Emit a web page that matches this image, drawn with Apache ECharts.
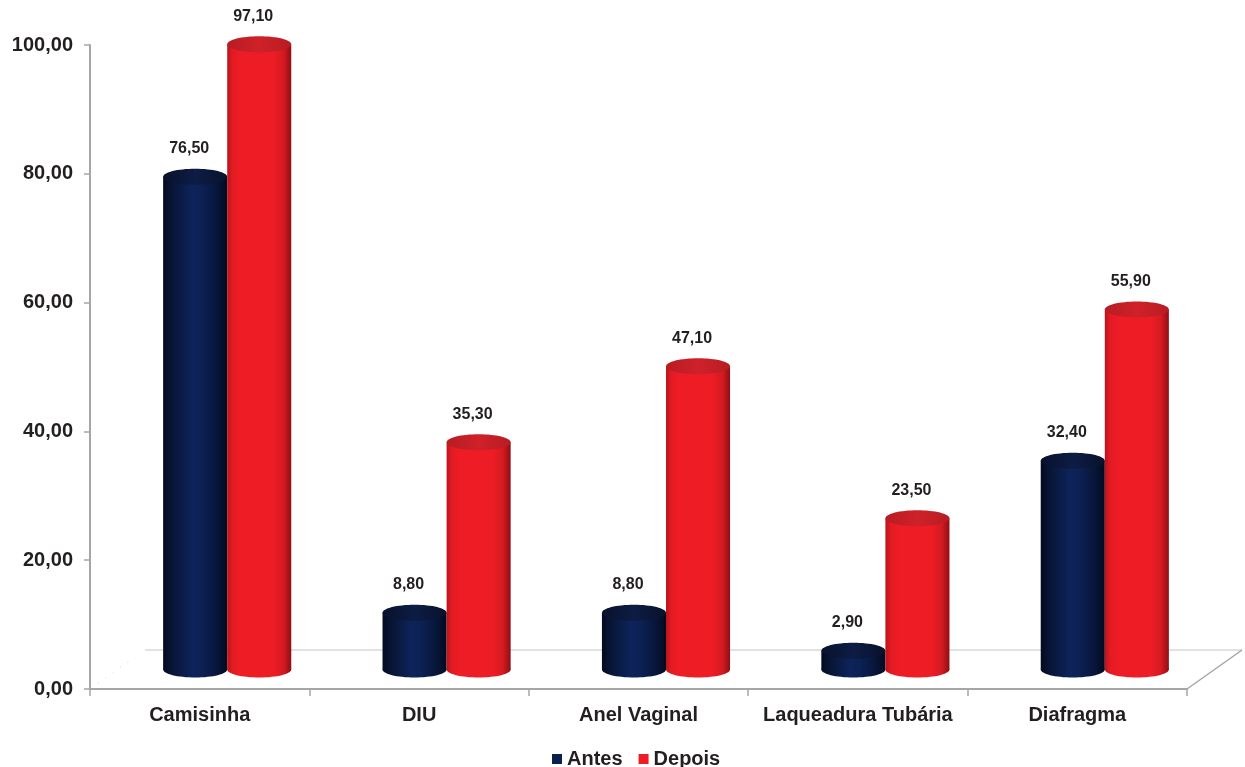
<!DOCTYPE html>
<html>
<head>
<meta charset="utf-8">
<script src="https://cdn.jsdelivr.net/npm/echarts@6/dist/echarts.min.js"></script>
<style>
  html, body { margin: 0; padding: 0; background: #ffffff; }
  #chart { width: 1245px; height: 767px; }
</style>
</head>
<body>
<div id="chart"></div>
<script>
// Métodos contraceptivos: percentuais antes e depois
const categories = ['Camisinha', 'DIU', 'Anel Vaginal', 'Laqueadura Tubária', 'Diafragma'];
const antes = [76.5, 8.8, 8.8, 2.9, 32.4];
const depois = [97.1, 35.3, 47.1, 23.5, 55.9];
const seriesNames = ['Antes', 'Depois'];
const yTicks = [0, 20, 40, 60, 80, 100];

const FONT = '"Liberation Sans", Arial, Helvetica, sans-serif';
const TEXT = '#231f20';
// depth of the 3D floor (pixels), bars stand at mid-depth
const DEPTH_X = 55, DEPTH_Y = 39;

const fmt = v => v.toFixed(2).replace('.', ',');

const palettes = [
  { // navy
    body: [[0, '#030a20'], [0.12, '#071433'], [0.45, '#0d235a'], [0.6, '#0c2154'], [0.85, '#071538'], [1, '#030a1f']],
    top: [[0, '#08122c'], [0.5, '#0d1c44'], [1, '#08122c']],
    legend: '#0c2050'
  },
  { // red
    body: [[0, '#b8141b'], [0.08, '#e21b23'], [0.2, '#ee1c25'], [0.72, '#ee1c25'], [0.88, '#d41a21'], [1, '#8e0f14']],
    top: [[0, '#b81c23'], [0.5, '#cf2129'], [1, '#b81c23']],
    legend: '#ee1c24'
  }
];

function grad(stops) {
  return new echarts.graphic.LinearGradient(0, 0, 1, 0,
    stops.map(s => ({ offset: s[0], color: s[1] })));
}

function cylinder(sIdx) {
  return function (params, api) {
    const idx = api.value(0);
    const v = api.value(1);
    const base = api.coord([idx, 0]);
    const top = api.coord([idx, v]);
    const band = api.size([1, 0])[0];
    const r = band * 0.146;
    const ry = 8;
    const cx = base[0] + DEPTH_X / 2 + (sIdx === 0 ? -r : r);
    const by = base[1] - DEPTH_Y / 2;
    const ty = top[1] - DEPTH_Y / 2;
    const p = palettes[sIdx];
    return {
      type: 'group',
      children: [
        { type: 'ellipse', shape: { cx: cx, cy: by, rx: r, ry: ry }, style: { fill: grad(p.body) } },
        { type: 'rect', shape: { x: cx - r, y: ty, width: 2 * r, height: by - ty }, style: { fill: grad(p.body) } },
        { type: 'ellipse', shape: { cx: cx, cy: ty, rx: r, ry: ry }, style: { fill: grad(p.top) } },
        {
          type: 'text',
          style: {
            text: fmt(v), x: cx - 6, y: ty - 28,
            textAlign: 'center', textVerticalAlign: 'middle',
            font: 'bold 16px ' + FONT, fill: TEXT
          }
        }
      ]
    };
  };
}

// floor of the 3D plot area
function floor(params, api) {
  const cs = params.coordSys;
  const x0 = cs.x, x1 = cs.x + cs.width, y0 = cs.y + cs.height;
  return {
    type: 'group',
    children: [
      { type: 'line', shape: { x1: x0 + DEPTH_X, y1: y0 - DEPTH_Y, x2: x1 + DEPTH_X, y2: y0 - DEPTH_Y },
        style: { stroke: '#d9d9d9', lineWidth: 1.5 } },
      { type: 'line', shape: { x1: x1, y1: y0, x2: x1 + DEPTH_X, y2: y0 - DEPTH_Y },
        style: { stroke: '#a6a6a6', lineWidth: 1.5 } },
      { type: 'line', shape: { x1: x0 + 8, y1: y0 - 6, x2: x0 + DEPTH_X - 10, y2: y0 - DEPTH_Y + 7 },
        style: { stroke: '#d0d0d0', lineWidth: 1, lineDash: [1, 8] } }
    ]
  };
}

const chart = echarts.init(document.getElementById('chart'), null, { renderer: 'canvas' });
chart.setOption({
  animation: false,
  backgroundColor: '#ffffff',
  grid: { left: 90, right: 58, top: 45, bottom: 78 },
  legend: {
    data: seriesNames,
    left: 547, top: 744,
    icon: 'rect', itemWidth: 10, itemHeight: 10, itemGap: 16,
    textStyle: { fontFamily: FONT, fontWeight: 'bold', fontSize: 20, color: TEXT }
  },
  xAxis: {
    type: 'category',
    data: categories,
    axisLine: { lineStyle: { color: '#a6a6a6', width: 2 } },
    axisTick: { show: true, length: 7, lineStyle: { color: '#a6a6a6', width: 1.5 } },
    axisLabel: { margin: 16, fontFamily: FONT, fontWeight: 'bold', fontSize: 20, color: TEXT, interval: 0 },
    splitLine: { show: false }
  },
  yAxis: {
    type: 'value',
    min: yTicks[0], max: yTicks[yTicks.length - 1], interval: yTicks[1] - yTicks[0],
    axisLine: { show: true, lineStyle: { color: '#a6a6a6', width: 2 } },
    axisTick: { show: true, length: 6, lineStyle: { color: '#a6a6a6', width: 1.5 } },
    axisLabel: { margin: 17, formatter: v => fmt(v), fontFamily: FONT, fontWeight: 'bold', fontSize: 20, color: TEXT },
    splitLine: { show: false }
  },
  series: [
    { type: 'custom', name: 'floor', silent: true, z: 1, renderItem: floor, data: [[0, 0]] },
    {
      type: 'custom', name: seriesNames[0], z: 2,
      itemStyle: { color: palettes[0].legend },
      renderItem: cylinder(0),
      data: antes.map((v, i) => [i, v])
    },
    {
      type: 'custom', name: seriesNames[1], z: 3,
      itemStyle: { color: palettes[1].legend },
      renderItem: cylinder(1),
      data: depois.map((v, i) => [i, v])
    }
  ]
});
</script>
</body>
</html>
